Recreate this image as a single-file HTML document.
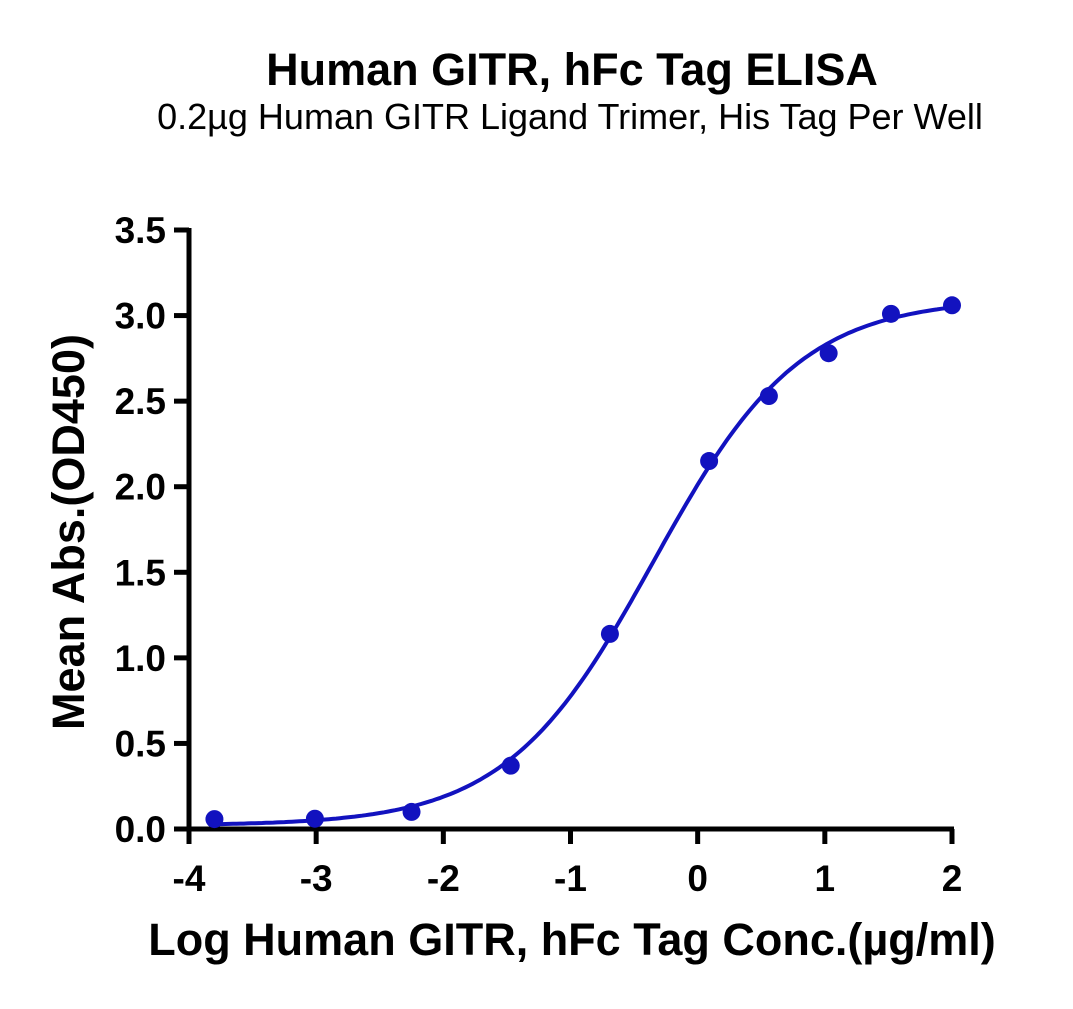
<!DOCTYPE html>
<html><head><meta charset="utf-8"><style>
body{margin:0;background:#fff;}
svg text{font-family:"Liberation Sans",Arial,sans-serif;}
</style></head><body>
<svg width="1073" height="1004" viewBox="0 0 1073 1004" xmlns="http://www.w3.org/2000/svg">
<text x="572" y="85" text-anchor="middle" font-size="45" font-weight="bold">Human GITR, hFc Tag ELISA</text>
<text x="570" y="129" text-anchor="middle" font-size="36">0.2µg Human GITR Ligand Trimer, His Tag Per Well</text>
<g id="axes"></g>
<g id="marks"></g>
<text x="572" y="955" text-anchor="middle" font-size="45" font-weight="bold">Log Human GITR, hFc Tag Conc.(µg/ml)</text>
<text transform="translate(84,532) rotate(-90)" text-anchor="middle" font-size="45" font-weight="bold">Mean Abs.(OD450)</text>
</svg>
<script>
const xValues=[-3.80,-3.01,-2.25,-1.47,-0.69,0.09,0.56,1.03,1.52,2.0];
const yValues=[0.058,0.06,0.10,0.37,1.14,2.15,2.53,2.78,3.01,3.06];
const fitParams=[0.02,3.1,-0.35,0.75];
const xTicks=[-4,-3,-2,-1,0,1,2];
const yTicks=[0,0.5,1,1.5,2,2.5,3,3.5];
const yTickLabels=["0.0","0.5","1.0","1.5","2.0","2.5","3.0","3.5"];
const NS="http://www.w3.org/2000/svg";
const X0=189,X1=952,Y0=829,Y1=230;
const sx=v=>X0+(v+4)/6*(X1-X0);
const sy=v=>Y0-v/3.5*(Y0-Y1);
function mk(t,a,p){const e=document.createElementNS(NS,t);for(const k in a)e.setAttribute(k,a[k]);p.appendChild(e);return e;}
const ax=document.getElementById('axes'),mg=document.getElementById('marks');
let l=mk('line',{x1:X0,y1:Y0,x2:X1+2,y2:Y0,stroke:'#000','stroke-width':5},ax);


l=mk('line',{x1:X0,y1:Y0+2,x2:X0,y2:Y1-2,stroke:'#000','stroke-width':5},ax);


xTicks.forEach(t=>{
 const tk=mk('line',{x1:sx(t),y1:Y0,x2:sx(t),y2:Y0+15,stroke:'#000','stroke-width':5},ax);
 
 
 const tx=mk('text',{x:sx(t),y:Y0+62,'text-anchor':'middle','font-size':37,'font-weight':'bold'},ax);
 tx.textContent=String(t);
 
 
});
yTicks.forEach((t,i)=>{
 const tk=mk('line',{x1:X0-15,y1:sy(t),x2:X0,y2:sy(t),stroke:'#000','stroke-width':5},ax);
 
 
 const tx=mk('text',{x:X0-23,y:sy(t)+13,'text-anchor':'end','font-size':37,'font-weight':'bold'},ax);
 tx.textContent=yTickLabels[i];
 
 
});
const [b,tp,c,h]=fitParams;
let d='';
for(let i=0;i<=200;i++){const x=xValues[0]+(xValues[xValues.length-1]-xValues[0])*i/200;const y=b+(tp-b)/(1+Math.pow(10,(c-x)*h));d+=(i?'L':'M')+sx(x).toFixed(1)+','+sy(y).toFixed(1);}
const p=mk('path',{d:d,fill:'none',stroke:'#1212bf','stroke-width':4},mg);


xValues.forEach((x,i)=>{
 const ci=mk('circle',{cx:sx(x),cy:sy(yValues[i]),r:9,fill:'#1212bf'},mg);
 
 
});
</script>
</body></html>
